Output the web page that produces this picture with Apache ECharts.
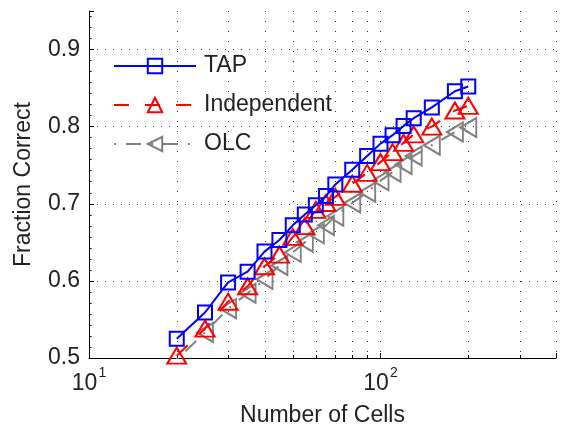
<!DOCTYPE html>
<html>
<head>
<meta charset="utf-8">
<script src="https://cdn.jsdelivr.net/npm/echarts@6/dist/echarts.min.js"></script>
<style>
  html, body { margin: 0; padding: 0; background: #ffffff; }
  #chart { width: 563px; height: 432px; }
</style>
</head>
<body>
<div id="chart"></div>
<script>
// Number of cells (log-scaled x axis)
const cells = [20, 25, 30, 35, 40, 45, 50, 55, 60, 65, 70, 80, 90, 100, 110, 120, 130, 150, 180, 200];

// Fraction correct for each method
const tap = [0.525, 0.559, 0.598, 0.612, 0.638, 0.653, 0.672, 0.686, 0.698, 0.710, 0.725, 0.744, 0.762, 0.778, 0.789, 0.801, 0.811, 0.825, 0.846, 0.852];
const independent = [0.503, 0.538, 0.573, 0.593, 0.619, 0.634, 0.657, 0.671, 0.692, 0.701, 0.709, 0.726, 0.740, 0.754, 0.767, 0.779, 0.790, 0.800, 0.821, 0.827];
const olc = [0.498, 0.533, 0.564, 0.584, 0.602, 0.620, 0.637, 0.650, 0.661, 0.672, 0.684, 0.701, 0.715, 0.730, 0.741, 0.751, 0.762, 0.776, 0.793, 0.799];

// Axis ranges and grid positions
const xMin = 10, xMax = 400;
const yMin = 0.5, yMax = 0.95, yStep = 0.1;
const xGridValues = [20, 30, 40, 50, 60, 70, 80, 90, 100, 200, 300, 400];

const FONT = '"Liberation Sans", Arial, Helvetica, sans-serif';
const TEXT = '#222222';

const chart = echarts.init(document.getElementById('chart'), null, { renderer: 'canvas' });

function lineSeries(name, values, color, dash, symbol, size, rotate, z) {
  return {
    name: name,
    type: 'line',
    data: cells.map((c, i) => [c, values[i]]),
    symbol: symbol,
    symbolSize: size,
    symbolRotate: rotate,
    clip: true,
    z: z,
    lineStyle: { color: color, width: 2, type: dash },
    itemStyle: { color: 'rgba(0,0,0,0)', borderColor: color, borderWidth: 2 },
    emphasis: { disabled: true },
    animation: false
  };
}

const option = {
  backgroundColor: '#ffffff',
  animation: false,
  textStyle: { fontFamily: FONT },
  grid: { left: 89, right: 7, top: 11, bottom: 73 },
  legend: {
    orient: 'vertical',
    left: 113,
    top: 54,
    padding: 0,
    itemWidth: 82,
    itemHeight: 18,
    itemGap: 15,
    selectedMode: false,
    textStyle: { fontFamily: FONT, fontSize: 23, color: TEXT, lineHeight: 24, padding: [0, 0, 0, 3] },
    data: ['TAP', 'Independent', 'OLC']
  },
  xAxis: {
    type: 'log',
    logBase: 10,
    min: xMin,
    max: xMax,
    name: 'Number of Cells',
    nameLocation: 'middle',
    nameGap: 46,
    nameTextStyle: { fontFamily: FONT, fontSize: 23, color: TEXT },
    axisLine: { show: true, lineStyle: { color: '#000', width: 1 } },
    axisTick: { show: true, inside: true, length: 5, lineStyle: { color: '#000' } },
    splitLine: { show: false },
    axisLabel: {
      margin: 8,
      color: TEXT,
      formatter: function (v) {
        const p = Math.log10(v);
        const r = Math.round(p);
        if (Math.abs(p - r) < 1e-6) return '{b|10}{s|' + r + '}';
        return '';
      },
      rich: {
        b: { fontFamily: FONT, fontSize: 23, color: TEXT, lineHeight: 36 },
        s: { fontFamily: FONT, fontSize: 14, color: TEXT, lineHeight: 14, verticalAlign: 'top', padding: [0, 0, 0, 1] }
      }
    }
  },
  yAxis: {
    type: 'value',
    min: yMin,
    max: yMax,
    interval: yStep,
    name: 'Fraction Correct',
    nameLocation: 'middle',
    nameGap: 54,
    nameTextStyle: { fontFamily: FONT, fontSize: 23, color: TEXT },
    axisLine: { show: true, lineStyle: { color: '#000', width: 1 } },
    axisTick: { show: true, inside: true, length: 5, lineStyle: { color: '#000' } },
    minorTick: { show: true, splitNumber: 7, length: 2.5, lineStyle: { color: '#000' } },
    axisLabel: {
      margin: 9,
      color: TEXT,
      fontFamily: FONT,
      fontSize: 23,
      showMaxLabel: false,
      formatter: function (v) { return v.toFixed(1); }
    },
    splitLine: {
      show: true,
      showMinLine: false,
      showMaxLine: false,
      lineStyle: { color: '#333', width: 1, type: [1, 7] }
    }
  },
  series: [
    // Vertical dotted grid lines and minor ticks at the log-axis positions
    {
      type: 'custom',
      silent: true,
      z: 1,
      data: xGridValues.map(v => [v, yMin]),
      renderItem: function (params, api) {
        const x = api.value(0);
        const top = api.coord([x, yMax]);
        const bot = api.coord([x, yMin]);
        const px = Math.round(top[0]) + 0.5;
        return {
          type: 'group',
          children: [
            { type: 'line', shape: { x1: px, y1: top[1], x2: px, y2: bot[1] },
              style: { stroke: '#333', lineWidth: 1, lineDash: [1, 9] } },
            { type: 'line', shape: { x1: px, y1: bot[1], x2: px, y2: bot[1] - 3 },
              style: { stroke: '#000', lineWidth: 1 } }
          ]
        };
      }
    },
    lineSeries('OLC', olc, '#808080', [2, 10, 15, 10], 'triangle', [19, 16], 90, 3),
    lineSeries('Independent', independent, '#ff0000', [15, 16], 'triangle', [19, 16], 0, 4),
    lineSeries('TAP', tap, '#0000ff', 'solid', 'rect', 14, 0, 5)
  ]
};

chart.setOption(option);
</script>
</body>
</html>
